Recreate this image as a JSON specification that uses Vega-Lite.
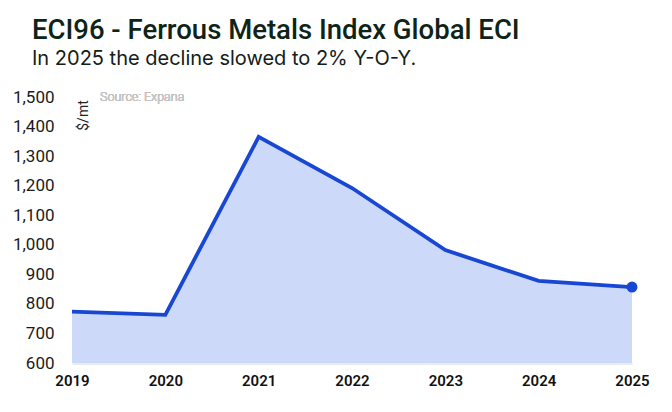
{
  "$schema": "https://vega.github.io/schema/vega-lite/v6.json",
  "width": 560,
  "height": 266,
  "autosize": "none",
  "padding": {"left": 72, "top": 97, "right": 40, "bottom": 49},
  "background": "white",
  "title": {
    "text": "ECI96 - Ferrous Metals Index Global ECI",
    "subtitle": "In 2025 the decline slowed to 2% Y-O-Y.",
    "anchor": "start",
    "frame": "group",
    "dx": -40,
    "offset": 19,
    "font": "Roboto",
    "fontSize": 27.5,
    "fontWeight": 500,
    "color": "#0d2417",
    "subtitleFont": "Inter",
    "subtitleFontSize": 20,
    "subtitleColor": "#122018",
    "subtitlePadding": 5
  },
  "data": {
    "values": [
      {"year": 2019, "price": 774},
      {"year": 2020, "price": 763},
      {"year": 2021, "price": 1365},
      {"year": 2022, "price": 1192},
      {"year": 2023, "price": 982},
      {"year": 2024, "price": 878},
      {"year": 2025, "price": 857}
    ]
  },
  "encoding": {
    "x": {
      "field": "year",
      "type": "quantitative",
      "scale": {"domain": [2019, 2025], "nice": false, "zero": false},
      "axis": {
        "title": null,
        "format": "d",
        "values": [2019, 2020, 2021, 2022, 2023, 2024, 2025],
        "grid": false,
        "ticks": false,
        "domainColor": "#ebebeb",
        "domainWidth": 3,
        "labelFont": "Roboto",
        "labelFontSize": 15,
        "labelFontWeight": 600,
        "labelColor": "#111",
        "labelPadding": 10,
        "labelFlush": false,
        "labelOverlap": false
      }
    },
    "y": {
      "field": "price",
      "type": "quantitative",
      "scale": {"domain": [600, 1500], "nice": false, "zero": false},
      "axis": {
        "title": "$/mt",
        "titleFont": "Roboto",
        "titleFontSize": 14,
        "titleFontWeight": "normal",
        "titleColor": "#222",
        "titleAngle": -90,
        "titleX": 11,
        "titleY": 18,
        "titleAlign": "center",
        "titleBaseline": "middle",
        "values": [600, 700, 800, 900, 1000, 1100, 1200, 1300, 1400, 1500],
        "format": ",.0f",
        "grid": false,
        "ticks": false,
        "domain": false,
        "labelFont": "Roboto",
        "labelFontSize": 17,
        "labelColor": "#1a1a1a",
        "labelPadding": 18,
        "labelOverlap": false
      }
    }
  },
  "layer": [
    {
      "mark": {"type": "area", "color": "#cdd9f9", "opacity": 1},
      "encoding": {"y2": {"datum": 600}}
    },
    {"mark": {"type": "line", "color": "#1747d3", "strokeWidth": 3.8}},
    {
      "transform": [{"filter": "datum.year == 2025"}],
      "mark": {"type": "point", "filled": true, "color": "#1747d3", "size": 120, "opacity": 1}
    },
    {
      "mark": {"type": "text", "text": "Source: Expana", "align": "left", "baseline": "middle", "dx": 28, "font": "Roboto", "fontSize": 12.5, "fontWeight": 300, "color": "#c4c4c4"},
      "encoding": {
        "x": {"datum": 2019, "type": "quantitative"},
        "y": {"datum": 1500, "type": "quantitative"}
      }
    }
  ],
  "config": {"view": {"stroke": null}}
}
